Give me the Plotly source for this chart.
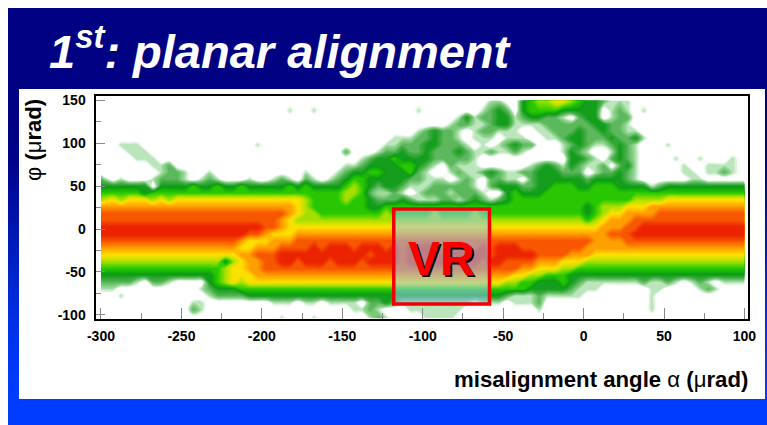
import plotly.graph_objects as go

W, H = 767, 425
# Grid node positions: 80 columns about 5 urad apart, 32 rows about 8 urad apart.
ALPHA_NODES = [-300] + [-292.5 + 5 * i for i in range(78)] + [100]
PHI_NODES = [150] + [138 - 8 * i for i in range(30)] + [-104]
# Intensity level per cell (0 empty .. 9 peak), top row first.
ROWS = [
"0000000000 0000000000 0000000000 0000000000 0000000011 0034556654 3321110000 0000000000",
"0000000000 0000000000 0001001000 0000000001 0000000123 2034444333 3301210100 0000000000",
"0000000000 0000000000 0000000000 0000000000 0000131223 3123322102 3301220000 0000000000",
"0000000000 0000000000 0000000000 0000000000 0001221123 3111122222 2332210000 0000000000",
"0000000000 0000000000 0000000000 0000000001 2322101221 1100112223 2232211000 0000000000",
"0000000000 0000000000 0000000000 0000001112 2322101110 1110011233 2223223100 0000000000",
"0011100000 0000000001 0000000000 0000011222 3322210101 2322000123 2112321000 1000000000",
"0001110000 0000000000 0000000000 2000122322 3222321121 1210000132 1001321000 0000000000",
"0000111000 0000000000 0000000000 0012334333 3222221000 0000000033 2102321000 0100100010",
"0000001120 0000000000 0000000000 1123333443 2102111000 0001232132 1120231000 0010011110",
"0000000122 1001000000 0000010001 2334433342 1001211232 1122333222 0122321000 0011011210",
"2010001222 1012100010 0121021012 3443333322 1110121022 1102333333 2333321000 0001100000",
"3333330333 3433433433 3334343333 4543233211 1222221023 3322334443 3444333312 3333333333",
"4444434444 4444444444 4444444444 5542112101 2221222100 3433344444 4444444444 4444444444",
"5656665656 6666666666 6666654444 5443222321 1122123212 3444444444 4444445555 6666666666",
"7777777777 7777777777 7777654444 4443344444 4444444444 4444444444 3455566677 7777777777",
"8888888888 8888888888 8887655444 4444454444 4544445444 4444444444 3456677778 8888888888",
"8888888888 8888888888 8876555555 5555555555 5555555555 5555555555 4567778888 8888888888",
"9999999999 9999999999 8876666666 6666666666 6666666666 6666666666 6677788999 9999999999",
"9999999999 9999999988 7666777777 7777777777 7777777777 7777777777 7778889999 9999999999",
"8888888888 8888888766 6777888888 8888888888 8888888888 8888888888 8777788888 8888888888",
"7777777777 7777777667 7788889899 9899989899 9989998989 9988888888 7777777777 7777777777",
"6666666666 6666666778 8899999999 9998999899 9899999989 9999888877 7666666666 6666666666",
"5555555555 5555535677 8899899989 9989999899 9998999899 8888777666 5555555555 5555555555",
"4444444444 4444456677 8888888888 8888888888 8888888888 8877666554 4444444444 4444444444",
"3333333333 3333456667 7777777777 7777777777 7777777777 7665544433 3333333333 3333333333",
"2222102210 0003456566 6666666666 6666666666 6666666666 5544333432 1111111211 2101210111",
"1100000000 0012333444 4444444444 4444444444 4444444444 4443333321 1100000011 0000121000",
"0010000000 0001222233 3333333333 3333333333 3333333333 2111211111 0000000010 0000000000",
"0000000000 0110000000 0111011011 1102232111 1111110111 0111200000 0000000010 0000000000",
"0000000000 0210000000 0000000000 0112100011 1111100000 0000100000 0000000010 0000000000",
"0000000000 0000000000 0010001000 0001210000 1111000000 0000000000 0000000000 0000000000",
]
X_TICKS = [-300, -250, -200, -150, -100, -50, 0, 50, 100]
Y_TICKS = [-100, -50, 0, 50, 100, 150]
VR_BOX_ALPHA = [-118, -58.5]
VR_BOX_PHI = [-87.5, 23.3]
GRADIENT = [0.0, 0.0, 0.04, 0.3, 0.6, 0.85, 1.0]

Z = [[int(c) for c in r.replace(" ", "")] for r in ROWS]
LEVELS = [
    "rgb(255,255,255)", "rgb(150,215,150)", "rgb(75,175,75)", "rgb(10,155,20)",
    "rgb(45,205,0)", "rgb(175,225,0)", "rgb(255,225,0)", "rgb(255,160,0)",
    "rgb(248,90,0)", "rgb(235,35,0)",
]
COLORSCALE = [[0, LEVELS[0]], [0.25 / 9, LEVELS[0]]] + [[i / 9, c] for i, c in enumerate(LEVELS) if i]
FONT = "Liberation Sans, Arial, sans-serif"


def px(x):
    return x / W


def py(y):
    return 1 - y / H


fig = go.Figure()
fig.add_trace(go.Heatmap(z=[[v, v] for v in GRADIENT], zsmooth="best", showscale=False,
                         colorscale=[[0, "rgb(0,0,130)"], [1, "rgb(0,60,255)"]],
                         xaxis="x", yaxis="y", hoverinfo="skip"))
fig.add_trace(go.Heatmap(z=[[0]], showscale=False, colorscale=[[0, "white"], [1, "white"]],
                         xaxis="x2", yaxis="y2", hoverinfo="skip"))
fig.add_trace(go.Contour(z=Z, x=ALPHA_NODES, y=PHI_NODES,
                         zmin=0, zmax=9, showscale=False, colorscale=COLORSCALE,
                         contours=dict(start=0.25, end=9, size=0.2, coloring="fill", showlines=False),
                         line=dict(width=0), xaxis="x3", yaxis="y3", hoverinfo="skip"))

hidden = dict(visible=False, fixedrange=True)
axis_common = dict(showline=True, linecolor="black", linewidth=2, mirror=True,
                   ticks="inside", tickcolor="#888888", tickwidth=1, showgrid=False,
                   zeroline=False, tickfont=dict(family=FONT, size=14, color="black", weight="bold"))

fig.update_layout(
    width=W, height=H, margin=dict(l=0, r=0, t=0, b=0, autoexpand=False), autosize=False,
    paper_bgcolor="white", plot_bgcolor="white", showlegend=False,
    xaxis=dict(domain=[px(8), 1], showline=True, linecolor="#b0b0b0", linewidth=1, mirror=False,
               showticklabels=False, ticks="", showgrid=False, zeroline=False),
    yaxis=dict(domain=[0, py(8)], showline=False, showticklabels=False, ticks="",
               showgrid=False, zeroline=False, autorange="reversed", anchor="x"),
    xaxis2=dict(domain=[px(19), px(765)], anchor="y2", **hidden),
    yaxis2=dict(domain=[py(399), py(89)], anchor="x2", **hidden),
    xaxis3=dict(domain=[px(95.5), px(748)], anchor="y3", range=[-303.4, 102.2],
                tickvals=X_TICKS, ticktext=[str(v) for v in X_TICKS],
                ticklen=11, ticklabelstandoff=3,
                minor=dict(dtick=25, tick0=0, ticks="inside", ticklen=6, tickcolor="#888888"),
                **axis_common),
    yaxis3=dict(domain=[py(319), py(95.5)], anchor="x3", range=[-105, 155.8],
                tickvals=Y_TICKS, ticktext=[str(v) for v in Y_TICKS],
                ticklen=9, ticklabelstandoff=5,
                minor=dict(dtick=25, tick0=0, ticks="inside", ticklen=5, tickcolor="#888888"),
                **axis_common),
)

fig.add_shape(type="rect", xref="x3", yref="y3", x0=VR_BOX_ALPHA[0], x1=VR_BOX_ALPHA[1],
              y0=VR_BOX_PHI[0], y1=VR_BOX_PHI[1], line=dict(color="rgb(240,0,0)", width=3.5),
              fillcolor="rgba(150,200,240,0.55)", layer="above")


def note(x, y, text, size, color="black", xanchor="center", angle=0):
    fig.add_annotation(xref="paper", yref="paper", x=px(x), y=py(y), text=text, showarrow=False,
                       xanchor=xanchor, yanchor="middle", textangle=angle,
                       font=dict(family=FONT, size=size, color=color))


note(47, 48, "<b><i>1<sup>st</sup>: planar alignment</i></b>", 47, "white", "left")
note(34, 140, "φ <b>(</b>μ<b>rad)</b>", 22, angle=-90)
note(750, 379, "<b>misalignment angle</b> α <b>(</b>μ<b>rad)</b>", 22.2, xanchor="right")
note(443, 260, "<b>VR</b>", 48, "black")
note(441, 258, "<b>VR</b>", 48, "rgb(250,0,0)")

fig.write_html("out.html", config=dict(displayModeBar=False),
               post_script="document.body.style.margin='0';document.body.style.overflow='hidden';")
